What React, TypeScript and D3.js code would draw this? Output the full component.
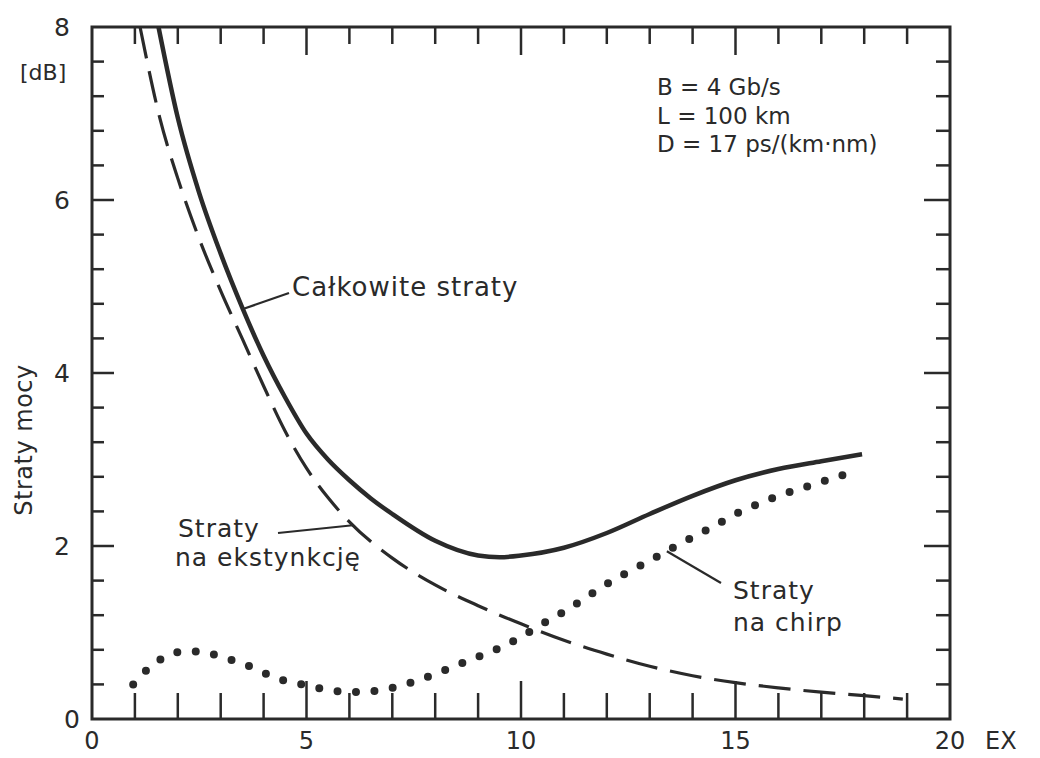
import React from "react";
import * as d3 from "d3";

// ---- data ----
const totalX = [1.55, 2.0, 2.5, 3.0, 3.5, 4.0, 4.5, 5.0, 5.5, 6.0, 6.5, 7.0, 8.0, 9.0, 9.5, 10.0, 11.0, 12.0, 13.0, 14.0, 15.0, 16.0, 17.0, 17.95];
const totalY = [8.0, 6.95, 6.08, 5.38, 4.76, 4.2, 3.72, 3.3, 3.0, 2.76, 2.55, 2.37, 2.06, 1.89, 1.87, 1.89, 1.98, 2.15, 2.37, 2.58, 2.76, 2.89, 2.98, 3.06];

const extX = [1.12, 1.58, 2.0, 2.5, 3.0, 3.5, 4.0, 4.5, 5.0, 5.5, 6.0, 7.0, 8.0, 9.0, 10.0, 11.0, 12.0, 13.0, 14.0, 15.0, 16.0, 17.0, 18.0, 18.9];
const extY = [8.0, 6.95, 6.25, 5.55, 4.95, 4.4, 3.85, 3.33, 2.9, 2.56, 2.28, 1.86, 1.55, 1.31, 1.1, 0.91, 0.75, 0.61, 0.5, 0.42, 0.36, 0.31, 0.27, 0.23];

const chirpX = [0.96, 1.2, 1.45, 1.72, 2.1, 2.5, 2.94, 3.38, 3.82, 4.29, 4.71, 5.15, 5.6, 6.0, 6.5, 7.0, 7.5, 8.0, 8.5, 9.0, 9.5, 10.0, 10.5, 11.0, 11.5, 12.0, 12.5, 13.0, 13.5, 14.0, 14.5, 15.0, 15.5, 16.0, 16.5, 17.0, 17.5, 17.9];
const chirpY = [0.4, 0.53, 0.64, 0.72, 0.78, 0.78, 0.73, 0.66, 0.58, 0.47, 0.42, 0.37, 0.33, 0.31, 0.32, 0.36, 0.43, 0.52, 0.62, 0.72, 0.82, 0.95, 1.1, 1.24, 1.4, 1.56, 1.7, 1.83, 1.97, 2.1, 2.23, 2.37, 2.48, 2.58, 2.66, 2.74, 2.82, 2.88];

const xTickLabels = [0, 5, 10, 15, 20];
const yTickLabels = [0, 2, 4, 6, 8];
const xMinorTicks = d3.range(1, 20);
const yMinorTicks = d3.range(1, 20).map((i) => +(i * 0.4).toFixed(1));
const paramLines = ["B = 4 Gb/s", "L = 100 km", "D = 17 ps/(km·nm)"];

const INK = "#2a2a2a";
const FONT = "'DejaVu Sans', sans-serif";

export default function App() {
  const W = 1040, H = 758;
  const left = 92, right = 950, top = 27, bottom = 719;
  const x = d3.scaleLinear().domain([0, 20]).range([left, right]);
  const y = d3.scaleLinear().domain([0, 8]).range([bottom, top]);

  const line = d3
    .line<[number, number]>()
    .x((d) => x(d[0]))
    .y((d) => y(d[1]))
    .curve(d3.curveMonotoneX);

  const total = totalX.map((v, i) => [v, totalY[i]] as [number, number]);
  const ext = extX.map((v, i) => [v, extY[i]] as [number, number]);
  const chirp = chirpX.map((v, i) => [v, chirpY[i]] as [number, number]);

  const isMajorX = (v: number) => v % 5 === 0;
  const isMajorY = (v: number) => Math.abs(v % 2) < 1e-6 || Math.abs((v % 2) - 2) < 1e-6;

  // annotation anchors (data coords on curves)
  const aTotal = [3.52, 4.74];
  const aExt = [6.08, 2.24];
  const aChirp = [13.4, 1.94];

  return (
    <svg
      width={W}
      height={H}
      style={{ position: "absolute", left: 0, top: 0, background: "#fff" }}
      fontFamily={FONT}
    >
      <rect x={0} y={0} width={W} height={H} fill="#fff" />
      {/* frame */}
      <rect x={left} y={top} width={right - left} height={bottom - top} fill="none" stroke={INK} strokeWidth={3} />

      {/* bottom & top ticks */}
      {xMinorTicks.map((v) => (
        <g key={"xt" + v}>
          <line x1={x(v)} x2={x(v)} y1={bottom} y2={bottom - (isMajorX(v) ? 38 : 26)} stroke={INK} strokeWidth={2.5} />
          <line x1={x(v)} x2={x(v)} y1={top} y2={top + (isMajorX(v) ? 28 : 17)} stroke={INK} strokeWidth={2.5} />
        </g>
      ))}
      {/* left & right ticks */}
      {yMinorTicks.map((v) => (
        <g key={"yt" + v}>
          <line x1={left} x2={left + (isMajorY(v) ? 22 : 12)} y1={y(v)} y2={y(v)} stroke={INK} strokeWidth={2.5} />
          <line x1={right} x2={right - (isMajorY(v) ? 26 : 14)} y1={y(v)} y2={y(v)} stroke={INK} strokeWidth={2.5} />
        </g>
      ))}

      {/* tick labels */}
      {xTickLabels.map((v) => (
        <text key={"xl" + v} x={x(v)} y={749} textAnchor="middle" fontSize={24} fill={INK}>
          {v}
        </text>
      ))}
      <text x={985} y={749} fontSize={24} fill={INK}>EX</text>
      {yTickLabels.map((v) => (
        <text key={"yl" + v} x={v === 0 ? 80 : 70} y={y(v)} dy="0.36em" textAnchor="end" fontSize={25} fill={INK}>
          {v}
        </text>
      ))}
      <text x={20} y={80} fontSize={22} fill={INK}>[dB]</text>
      <text transform="translate(32,440) rotate(-90)" textAnchor="middle" fontSize={24} fill={INK} letterSpacing={0.5}>
        Straty mocy
      </text>

      {/* curves */}
      <path d={line(ext) || ""} fill="none" stroke={INK} strokeWidth={3.2} strokeDasharray="32 13" />
      <path d={line(total) || ""} fill="none" stroke={INK} strokeWidth={4.5} />
      <path d={line(chirp) || ""} fill="none" stroke={INK} strokeWidth={8} strokeLinecap="round" strokeDasharray="0 18.5" />

      {/* annotations */}
      <line x1={x(aTotal[0])} y1={y(aTotal[1])} x2={289} y2={293} stroke={INK} strokeWidth={2.2} />
      <text x={292} y={296} fontSize={26} letterSpacing={1} fill={INK}>Całkowite straty</text>

      <line x1={278} y1={533} x2={x(aExt[0])} y2={y(aExt[1])} stroke={INK} strokeWidth={2.2} />
      <text x={178} y={537} fontSize={25} letterSpacing={1} fill={INK}>Straty</text>
      <text x={175} y={566} fontSize={25} letterSpacing={1} fill={INK}>na ekstynkcję</text>

      <line x1={x(aChirp[0])} y1={y(aChirp[1])} x2={721} y2={583} stroke={INK} strokeWidth={2.2} />
      <text x={733} y={599} fontSize={25} letterSpacing={1} fill={INK}>Straty</text>
      <text x={733} y={631} fontSize={25} letterSpacing={1} fill={INK}>na chirp</text>

      {/* parameters */}
      {paramLines.map((t, i) => (
        <text key={t} x={657} y={95 + i * 28.5} fontSize={23} fill={INK}>
          {t}
        </text>
      ))}
    </svg>
  );
}
